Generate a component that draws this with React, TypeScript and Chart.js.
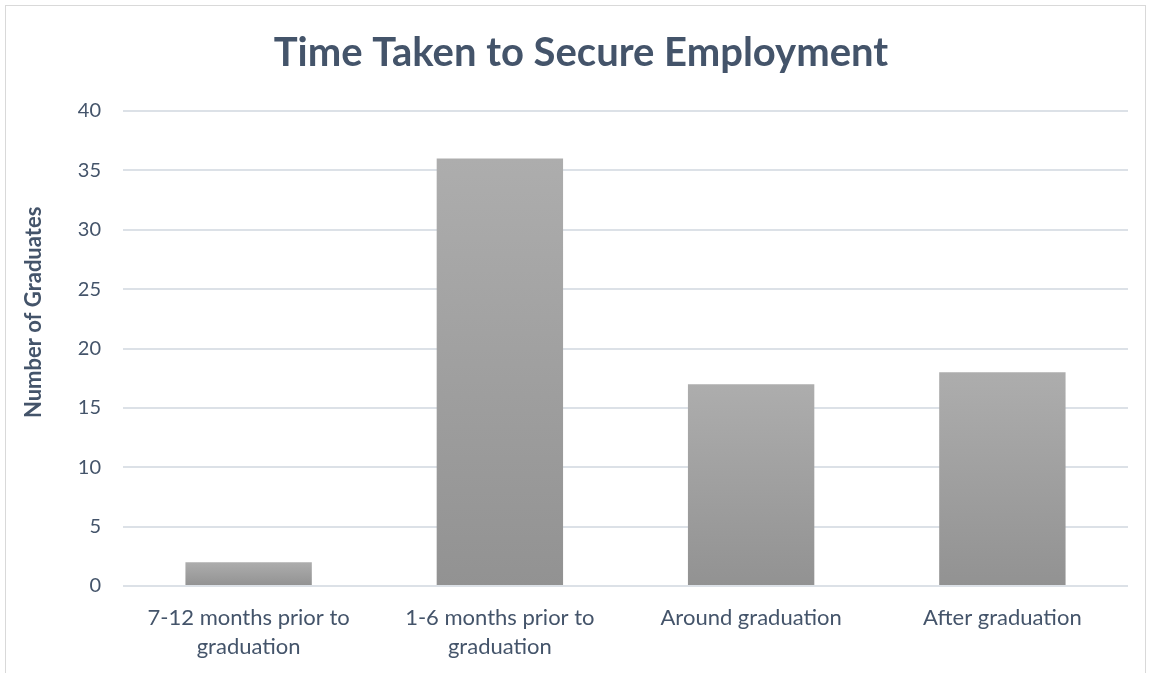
import React, { useEffect, useRef } from "react";
import { Chart, registerables } from "chart.js";

Chart.register(...registerables);

const categories: string[][] = [
  ["7-12 months prior to", "graduation"],
  ["1-6 months prior to", "graduation"],
  ["Around graduation"],
  ["After graduation"],
];
const graduates: number[] = [2, 36, 17, 18];
const chartTitle = "Time Taken to Secure Employment";
const yAxisTitle = "Number of Graduates";

const TEXT = "#44546A";
const GRID = "#DCE1E7";
const FONT = "Lato, 'Open Sans', sans-serif";

const yTitlePlugin = {
  id: "yTitlePlugin",
  afterDraw(chart: any) {
    const { ctx, chartArea } = chart;
    ctx.save();
    ctx.fillStyle = TEXT;
    ctx.font = `bold 22px ${FONT}`;
    ctx.textAlign = "center";
    ctx.textBaseline = "middle";
    ctx.translate(34, chartArea.top + chartArea.height * 0.424);
    ctx.rotate(-Math.PI / 2);
    ctx.fillText(yAxisTitle, 0, 0);
    ctx.restore();
  },
};

export default function App() {
  const ref = useRef<HTMLCanvasElement | null>(null);
  useEffect(() => {
    if (!ref.current) return;
    const chart = new Chart(ref.current, {
      type: "bar",
      data: {
        labels: categories,
        datasets: [
          {
            data: graduates,
            backgroundColor: (c: any) => {
              const ch = c.chart;
              if (!ch.chartArea || c.dataIndex === undefined) return "#A0A0A0";
              const ys = ch.scales.y;
              const v = c.raw as number;
              const top = ys.getPixelForValue(v);
              const bot = ys.getPixelForValue(0);
              const g = ch.ctx.createLinearGradient(0, top, 0, bot);
              g.addColorStop(0, "#ADADAD");
              g.addColorStop(1, "#929292");
              return g;
            },
            borderWidth: 0,
            barPercentage: 0.503,
            categoryPercentage: 1,
          },
        ],
      },
      options: {
        animation: false,
        responsive: false,
        maintainAspectRatio: false,
        layout: { padding: { left: 34, right: 23, top: 0, bottom: 0 } },
        plugins: {
          legend: { display: false },
          tooltip: { enabled: false },
          title: {
            display: true,
            text: chartTitle,
            color: TEXT,
            font: { family: FONT, size: 40, weight: "bold" },
            padding: { top: 29, bottom: 34 },
          },
        },
        scales: {
          x: {
            grid: { display: false, drawTicks: false },
            border: { display: false },
            ticks: {
              color: TEXT,
              font: { family: FONT, size: 22, lineHeight: 1.32 },
              padding: 17,
              maxRotation: 0,
              autoSkip: false,
            },
            afterFit: (s: any) => {
              s.height = 87;
            },
          },
          y: {
            min: 0,
            max: 40,
            ticks: {
              stepSize: 5,
              color: TEXT,
              font: { family: FONT, size: 20 },
              padding: 22,
            },
            grid: { color: GRID, lineWidth: 2, drawTicks: false },
            border: { display: false },
            afterFit: (s: any) => {
              s.width = 89;
            },
          },
        },
      },
      plugins: [yTitlePlugin],
    });
    return () => chart.destroy();
  }, []);

  return (
    <div
      style={{
        position: "fixed",
        left: 0,
        top: 0,
        width: 1151,
        height: 673,
        background: "#fff",
        overflow: "hidden",
      }}
    >
      <div
        style={{
          position: "absolute",
          left: 5,
          top: 5,
          width: 1141,
          height: 700,
          border: "1px solid #D9D9D9",
          boxSizing: "border-box",
        }}
      />
      <canvas
        ref={ref}
        width={1151}
        height={673}
        style={{ position: "absolute", left: 0, top: 0, width: 1151, height: 673 }}
      />
    </div>
  );
}
